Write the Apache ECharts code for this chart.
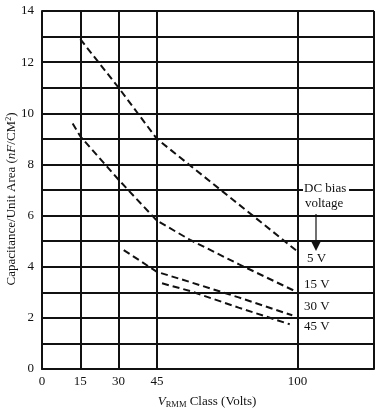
<!DOCTYPE html>
<html><head><meta charset="utf-8">
<script src="https://cdn.jsdelivr.net/npm/echarts@6/dist/echarts.min.js"></script>
<style>html,body{margin:0;padding:0;background:#fff}#c{width:381px;height:412px}</style>
</head><body><div id="c"></div>
<script>
// Data
const v5 = [[15,12.9],[30,11.0],[45,9.0],[57.5,8.0],[75,6.6],[100,4.6]];
const v15 = [[12,9.6],[15,9.1],[30,7.4],[45,5.8],[58,5.05],[77,4.1],[99,3.05]];
const v30 = [[32,4.65],[45,3.8],[58,3.4],[77,2.8],[98,2.1]];
const v45 = [[47,3.35],[58,3.05],[77,2.4],[97,1.75]];
const xTickLabels = [0,15,30,45,100];
const xGridLines = [15,30,45,100,130];
const yLabelStep = 2;

const font = '"Liberation Serif", "DejaVu Serif", serif';
const ink = '#111';
const chart = echarts.init(document.getElementById('c'));
const dashed = (name, data) => ({
  name, type:'line', data, symbol:'none', silent:true, z:5,
  lineStyle:{color:ink, width:2, type:[7,4]}
});
chart.setOption({
  animation:false,
  backgroundColor:'#fff',
  grid:{left:42, right:7, top:11, bottom:43, containLabel:false},
  xAxis:{type:'value', min:0, max:130, interval:5,
    axisLine:{lineStyle:{color:ink, width:2}},
    axisTick:{show:false},
    splitLine:{show:false},
    axisLabel:{color:ink, fontFamily:font, fontSize:13, margin:6,
      formatter:v=> xTickLabels.includes(v) ? String(v) : ''}
  },
  yAxis:{type:'value', min:0, max:14, interval:1,
    axisLine:{show:true, lineStyle:{color:ink, width:2}},
    axisTick:{show:false},
    splitLine:{lineStyle:{color:ink, width:1.8}},
    axisLabel:{color:ink, fontFamily:font, fontSize:13, margin:8,
      formatter:v=> v % yLabelStep === 0 ? String(v) : ''}
  },
  series:[
    {type:'line', data:[], silent:true,
      markLine:{silent:true, symbol:'none', label:{show:false},
        lineStyle:{color:ink, width:2, type:'solid'},
        data: xGridLines.map(x=>({xAxis:x}))}},
    dashed('5 V', v5), dashed('15 V', v15), dashed('30 V', v30), dashed('45 V', v45)
  ],
  graphic:[
    {type:'text', x:12, y:199, rotation:Math.PI/2, style:{
      text:'Capacitance/Unit Area ({i|nF}/CM{sup|2})',
      font:'13px '+font, fill:ink, align:'center', verticalAlign:'middle',
      rich:{i:{fontStyle:'italic', fontSize:13, fontFamily:font, fill:ink},
            sup:{fontSize:8, fontFamily:font, fill:ink, padding:[0,0,7,0]}}}},
    {type:'text', x:207, y:402, style:{
      text:'{i|V}{sub|RMM} Class (Volts)',
      font:'13px '+font, fill:ink, align:'center', verticalAlign:'middle',
      rich:{i:{fontStyle:'italic', fontSize:13, fontFamily:font, fill:ink},
            sub:{fontSize:8.5, fontFamily:font, fill:ink, padding:[6,0,0,0]}}}},
    {type:'rect', z:100, shape:{x:303, y:182, width:46, height:14}, style:{fill:'#fff'}},
    {type:'text', z:101, x:304, y:189, style:{text:'DC bias', font:'13px '+font, fill:ink, verticalAlign:'middle'}},
    {type:'text', z:101, x:305, y:204, style:{text:'voltage', font:'13px '+font, fill:ink, verticalAlign:'middle'}},
    {type:'line', z:101, shape:{x1:316, y1:214, x2:316, y2:243}, style:{stroke:ink, lineWidth:1.2}},
    {type:'polygon', z:101, shape:{points:[[311,241],[321,241],[316,251]]}, style:{fill:ink}},
    {type:'text', z:101, x:307, y:259, style:{text:'5 V', font:'13px '+font, fill:ink, verticalAlign:'middle'}},
    {type:'text', z:101, x:304, y:285, style:{text:'15 V', font:'13px '+font, fill:ink, verticalAlign:'middle'}},
    {type:'text', z:101, x:304, y:307, style:{text:'30 V', font:'13px '+font, fill:ink, verticalAlign:'middle'}},
    {type:'text', z:101, x:304, y:327, style:{text:'45 V', font:'13px '+font, fill:ink, verticalAlign:'middle'}}
  ]
});
</script></body></html>
